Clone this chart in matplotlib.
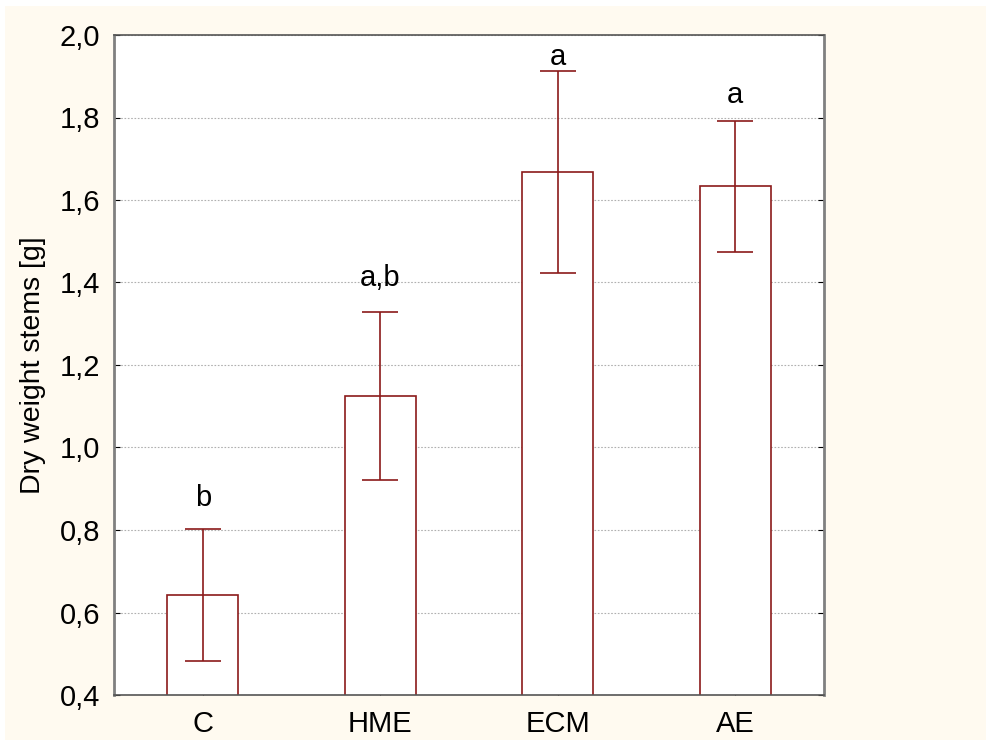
import numpy as np
import matplotlib.pyplot as plt
from matplotlib.patches import Rectangle

plt.rcParams['font.family'] = ['Liberation Sans', 'DejaVu Sans']

groups = ['C', 'HME', 'ECM', 'AE']
means = [0.642, 1.125, 1.668, 1.633]
errors = [0.160, 0.203, 0.245, 0.158]
letters = ['b', 'a,b', 'a', 'a']
letter_y = [0.878, 1.411, 1.947, 1.855]

red = '#8B1A1A'
cream = '#FFFAF0'

fig = plt.figure(figsize=(9.91, 7.46), dpi=100)
fig.patch.set_facecolor('white')
# cream panel with thin white border
fig.patches.append(Rectangle((5 / 991, 6 / 746), 981 / 991, 734 / 746,
                             transform=fig.transFigure, facecolor=cream,
                             edgecolor='none', zorder=-10))

ax = fig.add_axes([114 / 991, 1 - 695 / 746, 710 / 991, 660 / 746])
ax.set_facecolor('white')

x = np.arange(len(groups))
ax.bar(x, means, width=0.4, color='white', edgecolor=red, linewidth=1.2, zorder=2)
ax.errorbar(x, means, yerr=errors, fmt='none', ecolor=red, elinewidth=1.2,
            capsize=13.3, capthick=1.2, zorder=3)

for xi, lab, ly in zip(x, letters, letter_y):
    ax.text(xi, ly, lab, ha='center', va='center', fontsize=21)

ax.set_xlim(-0.5, 3.5)
ax.set_ylim(0.4, 2.0)
yt = np.arange(0.4, 2.01, 0.2)
ax.set_yticks(yt)
ax.set_yticklabels([f'{v:.1f}'.replace('.', ',') for v in yt])
ax.set_xticks(x)
ax.set_xticklabels(groups)

ax.tick_params(axis='both', direction='in', length=4, labelsize=21,
               right=True, top=False)
ax.tick_params(axis='y', pad=10)
ax.tick_params(axis='x', pad=11)

ax.yaxis.grid(True, linestyle=(0, (1.5, 1.5)), color='#b0b0b0', linewidth=0.8, zorder=0)
ax.set_axisbelow(True)

for side in ['left', 'right']:
    ax.spines[side].set_color('#808080')
    ax.spines[side].set_linewidth(2)
for side in ['top', 'bottom']:
    ax.spines[side].set_color('#555555')
    ax.spines[side].set_linewidth(1.2)

ax.set_ylabel('Dry weight stems [g]', fontsize=20.5, labelpad=10)

fig.savefig('out.png', dpi=100, facecolor=fig.get_facecolor())
